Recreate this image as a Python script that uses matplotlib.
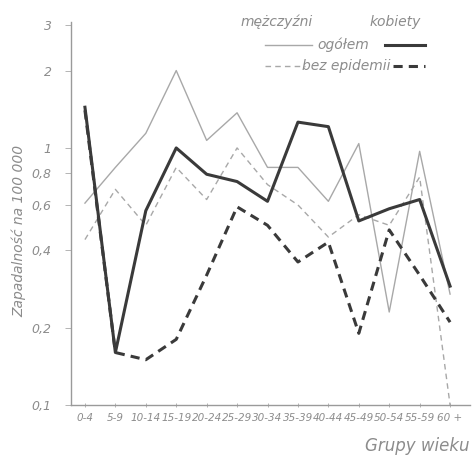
import matplotlib
matplotlib.use("Agg")
import matplotlib.pyplot as plt
from matplotlib.ticker import FixedLocator, NullLocator

# age groups
age_groups = ["0-4", "5-9", "10-14", "15-19", "20-24", "25-29", "30-34",
              "35-39", "40-44", "45-49", "50-54", "55-59", "60 +"]

# incidence per 100 000
men_total = [0.61, 0.84, 1.14, 2.0, 1.07, 1.37, 0.84, 0.84, 0.62, 1.04, 0.23, 0.97, 0.27]
women_total = [1.44, 0.16, 0.57, 1.0, 0.79, 0.74, 0.62, 1.26, 1.21, 0.52, 0.58, 0.63, 0.29]
men_no_epid = [0.44, 0.69, 0.50, 0.84, 0.63, 1.0, 0.72, 0.60, 0.45, 0.55, 0.50, 0.77, 0.10]
women_no_epid = [1.40, 0.16, 0.15, 0.18, 0.32, 0.59, 0.50, 0.36, 0.43, 0.19, 0.48, 0.32, 0.21]

y_ticks = [0.1, 0.2, 0.4, 0.6, 0.8, 1, 2, 3]
y_labels = ["0,1", "0,2", "0,4", "0,6", "0,8", "1", "2", "3"]

TXT = "#8c8c8c"
DARK = "#3a3a3a"
LIGHT = "#a8a8a8"
font = ["Liberation Sans Narrow", "DejaVu Sans"]

fig = plt.figure(figsize=(4.73, 4.62), dpi=100)
ax = fig.add_axes([0.150, 0.1234, 0.844, 0.829])

x = list(range(len(age_groups)))
ax.plot(x, men_total, color=LIGHT, lw=1.0)
ax.plot(x, men_no_epid, color=LIGHT, lw=1.0, ls=(0, (4, 3)))
ax.plot(x, women_total, color=DARK, lw=2.2)
ax.plot(x, women_no_epid, color=DARK, lw=2.2, ls=(0, (3, 2)))

ax.set_yscale("log")
ax.set_ylim(0.1, 3.09)
ax.set_xlim(-0.46, 12.66)
ax.yaxis.set_major_locator(FixedLocator(y_ticks))
ax.yaxis.set_minor_locator(NullLocator())
ax.set_yticklabels(y_labels, family=font, style="italic", fontsize=9, color=TXT)
ax.set_xticks(x)
ax.set_xticklabels(age_groups, family=font, style="italic", fontsize=7.5, color=TXT)
ax.tick_params(axis="y", length=4, width=0.6, color=LIGHT, pad=10)
ax.tick_params(axis="x", length=3, width=0.6, color=LIGHT, direction="inout", pad=4)

for s in ["top", "right"]:
    ax.spines[s].set_visible(False)
for s in ["left", "bottom"]:
    ax.spines[s].set_color("#9a9a9a")
    ax.spines[s].set_linewidth(1.0)

fig.text(0.040, 0.50, "Zapadalność na 100 000", rotation=90, ha="center", va="center",
         family=font, style="italic", fontsize=10, color=TXT)
fig.text(0.993, 0.035, "Grupy wieku", ha="right", va="center",
         family=font, style="italic", fontsize=12, color=TXT)

# hand-drawn style legend at the top
fig.text(0.585, 0.952, "mężczyźni", ha="center", va="center",
         family=font, style="italic", fontsize=10, color=TXT)
fig.text(0.835, 0.952, "kobiety", ha="center", va="center",
         family=font, style="italic", fontsize=10, color=TXT)
fig.text(0.725, 0.903, "ogółem", ha="center", va="center",
         family=font, style="italic", fontsize=10, color=TXT)
fig.text(0.731, 0.857, "bez epidemii", ha="center", va="center",
         family=font, style="italic", fontsize=10, color=TXT)
fig.add_artist(plt.Line2D([0.560, 0.660], [0.903, 0.903], color=LIGHT, lw=1.0,
                          transform=fig.transFigure))
fig.add_artist(plt.Line2D([0.814, 0.898], [0.903, 0.903], color=DARK, lw=2.2,
                          transform=fig.transFigure))
fig.add_artist(plt.Line2D([0.560, 0.645], [0.857, 0.857], color=LIGHT, lw=1.0,
                          ls=(0, (4, 3)), transform=fig.transFigure))
fig.add_artist(plt.Line2D([0.831, 0.898], [0.857, 0.857], color=DARK, lw=2.2,
                          ls=(0, (3, 2)), transform=fig.transFigure))

fig.savefig("out.png", dpi=100, facecolor="white")
